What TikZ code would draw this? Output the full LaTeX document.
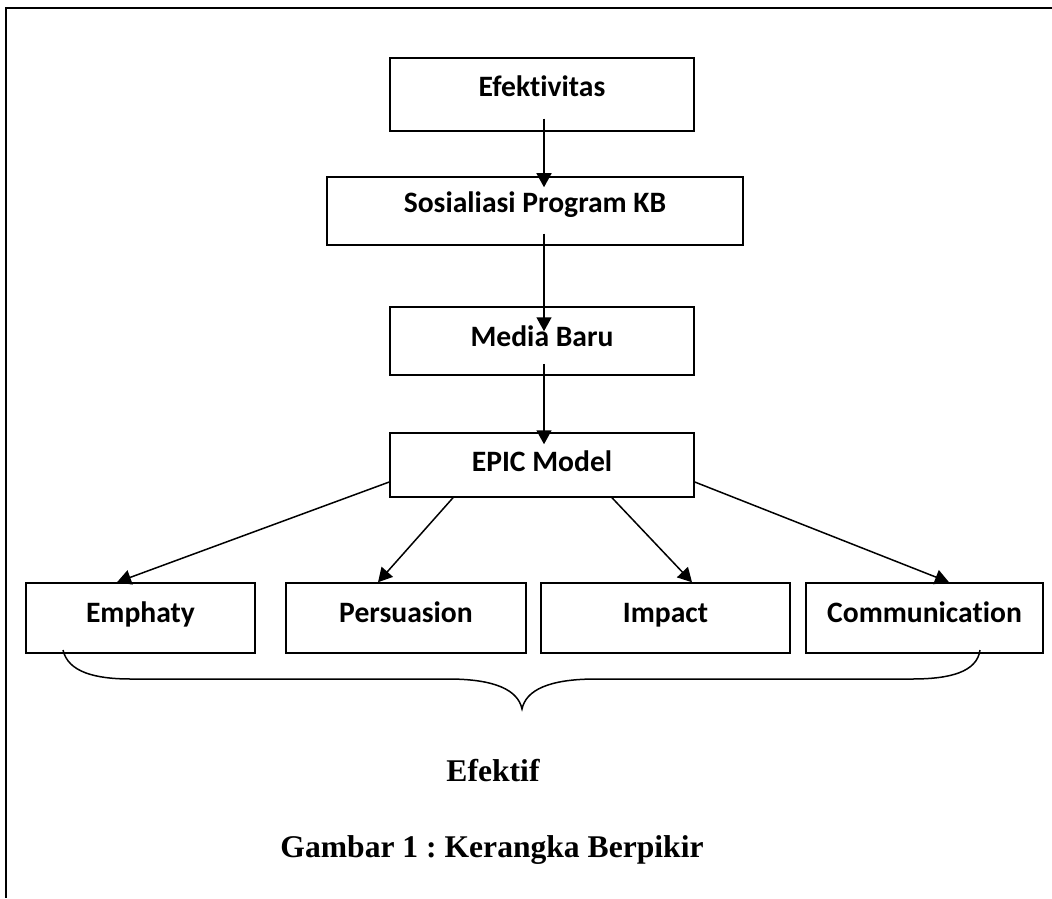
\documentclass[tikz,border=0pt]{standalone}
\usepackage{fontspec}
\setmainfont{Liberation Serif}
\newfontfamily\calibri[Ligatures = {NoCommon, NoRequired, NoContextual}]{Carlito}
\usetikzlibrary{arrows.meta}
\frenchspacing

\begin{document}
\begin{tikzpicture}[x = .5pt, y = -.5pt,
                kotak/.style = {draw, black, line width = .75pt, rectangle, inner sep = 2pt,
                    font = \calibri\bfseries\fontsize{14.8}{17}\selectfont, text height = 10pt},
                panah/.style = {line width = .75pt, -{Triangle[length = 7pt, width = 7.5pt]}},
                teks/.style = {font = \bfseries\fontsize{15.8}{19}\selectfont, anchor = base}]
                \useasboundingbox (0,0) rectangle (1052,898);
                \draw[line width = 1pt] (1052,8) -- (6,8) -- (6,898);
                \node[kotak, minimum width = 152pt, minimum height = 36.5pt, text depth = 7.5pt] (efektivitas) at (542,94.5) {Efektivitas};
                \node[kotak, minimum width = 208pt, minimum height = 34pt, text depth = 8pt] (sosialisasi) at (535,211) {Sosialiasi Program KB};
                \node[kotak, minimum width = 152pt, minimum height = 34pt, text depth = 5pt] (media) at (542,341) {Media Baru};
                \node[kotak, minimum width = 152pt, minimum height = 32pt, text depth = 3.5pt] (epic) at (542,465) {EPIC Model};
                \node[kotak, minimum width = 114.5pt, minimum height = 35pt, text depth = 5.5pt] (emphaty) at (140.5,618) {Emphaty};
                \node[kotak, minimum width = 120pt, minimum height = 35pt, text depth = 5.5pt] (persuasion) at (406,618) {Persuasion};
                \node[kotak, minimum width = 124.5pt, minimum height = 35pt, text depth = 5.5pt] (impact) at (665.5,618) {Impact};
                \node[kotak, minimum width = 118.5pt, minimum height = 35pt, text depth = 5.5pt] (communication) at (924.5,618) {Communication};
                \draw[panah, shorten <= -6.5pt, shorten >= -5.5pt] ([xshift = 1pt]efektivitas.south) -- ([xshift = 1pt]efektivitas.south |- sosialisasi.north);
                \draw[panah, shorten <= -6pt, shorten >= -12.5pt] ([xshift = 1pt]media.north |- sosialisasi.south) -- ([xshift = 1pt]media.north);
                \draw[panah, shorten <= -6pt, shorten >= -6pt] ([xshift = 1pt]media.south) -- ([xshift = 1pt]epic.north);
                \draw[panah] ([yshift = -8.5pt]epic.west) -- ([xshift = -11.75pt]emphaty.north);
                \draw[panah] ([xshift = -44.5pt]epic.south) -- ([xshift = -14pt]persuasion.north);
                \draw[panah] ([xshift = 35pt]epic.south) -- ([xshift = 13.25pt]impact.north);
                \draw[panah] ([yshift = -8.5pt]epic.east) -- ([xshift = 12.25pt]communication.north);
                \draw[line width = .75pt] (63,650) .. controls (68,672) and (95,679) .. (131,679) -- (448,679)
                    .. controls (495,679) and (518,690) .. (522,709)
                    .. controls (526,690) and (549,679) .. (596,679) -- (912,679)
                    .. controls (950,679) and (977,672) .. (980,650);
                \node[teks] (efektif) at (493,781) {Efektif};
                \node[teks] (gambar) at (492,857) {Gambar 1 : Kerangka Berpikir};
            \end{tikzpicture}
\end{document}
